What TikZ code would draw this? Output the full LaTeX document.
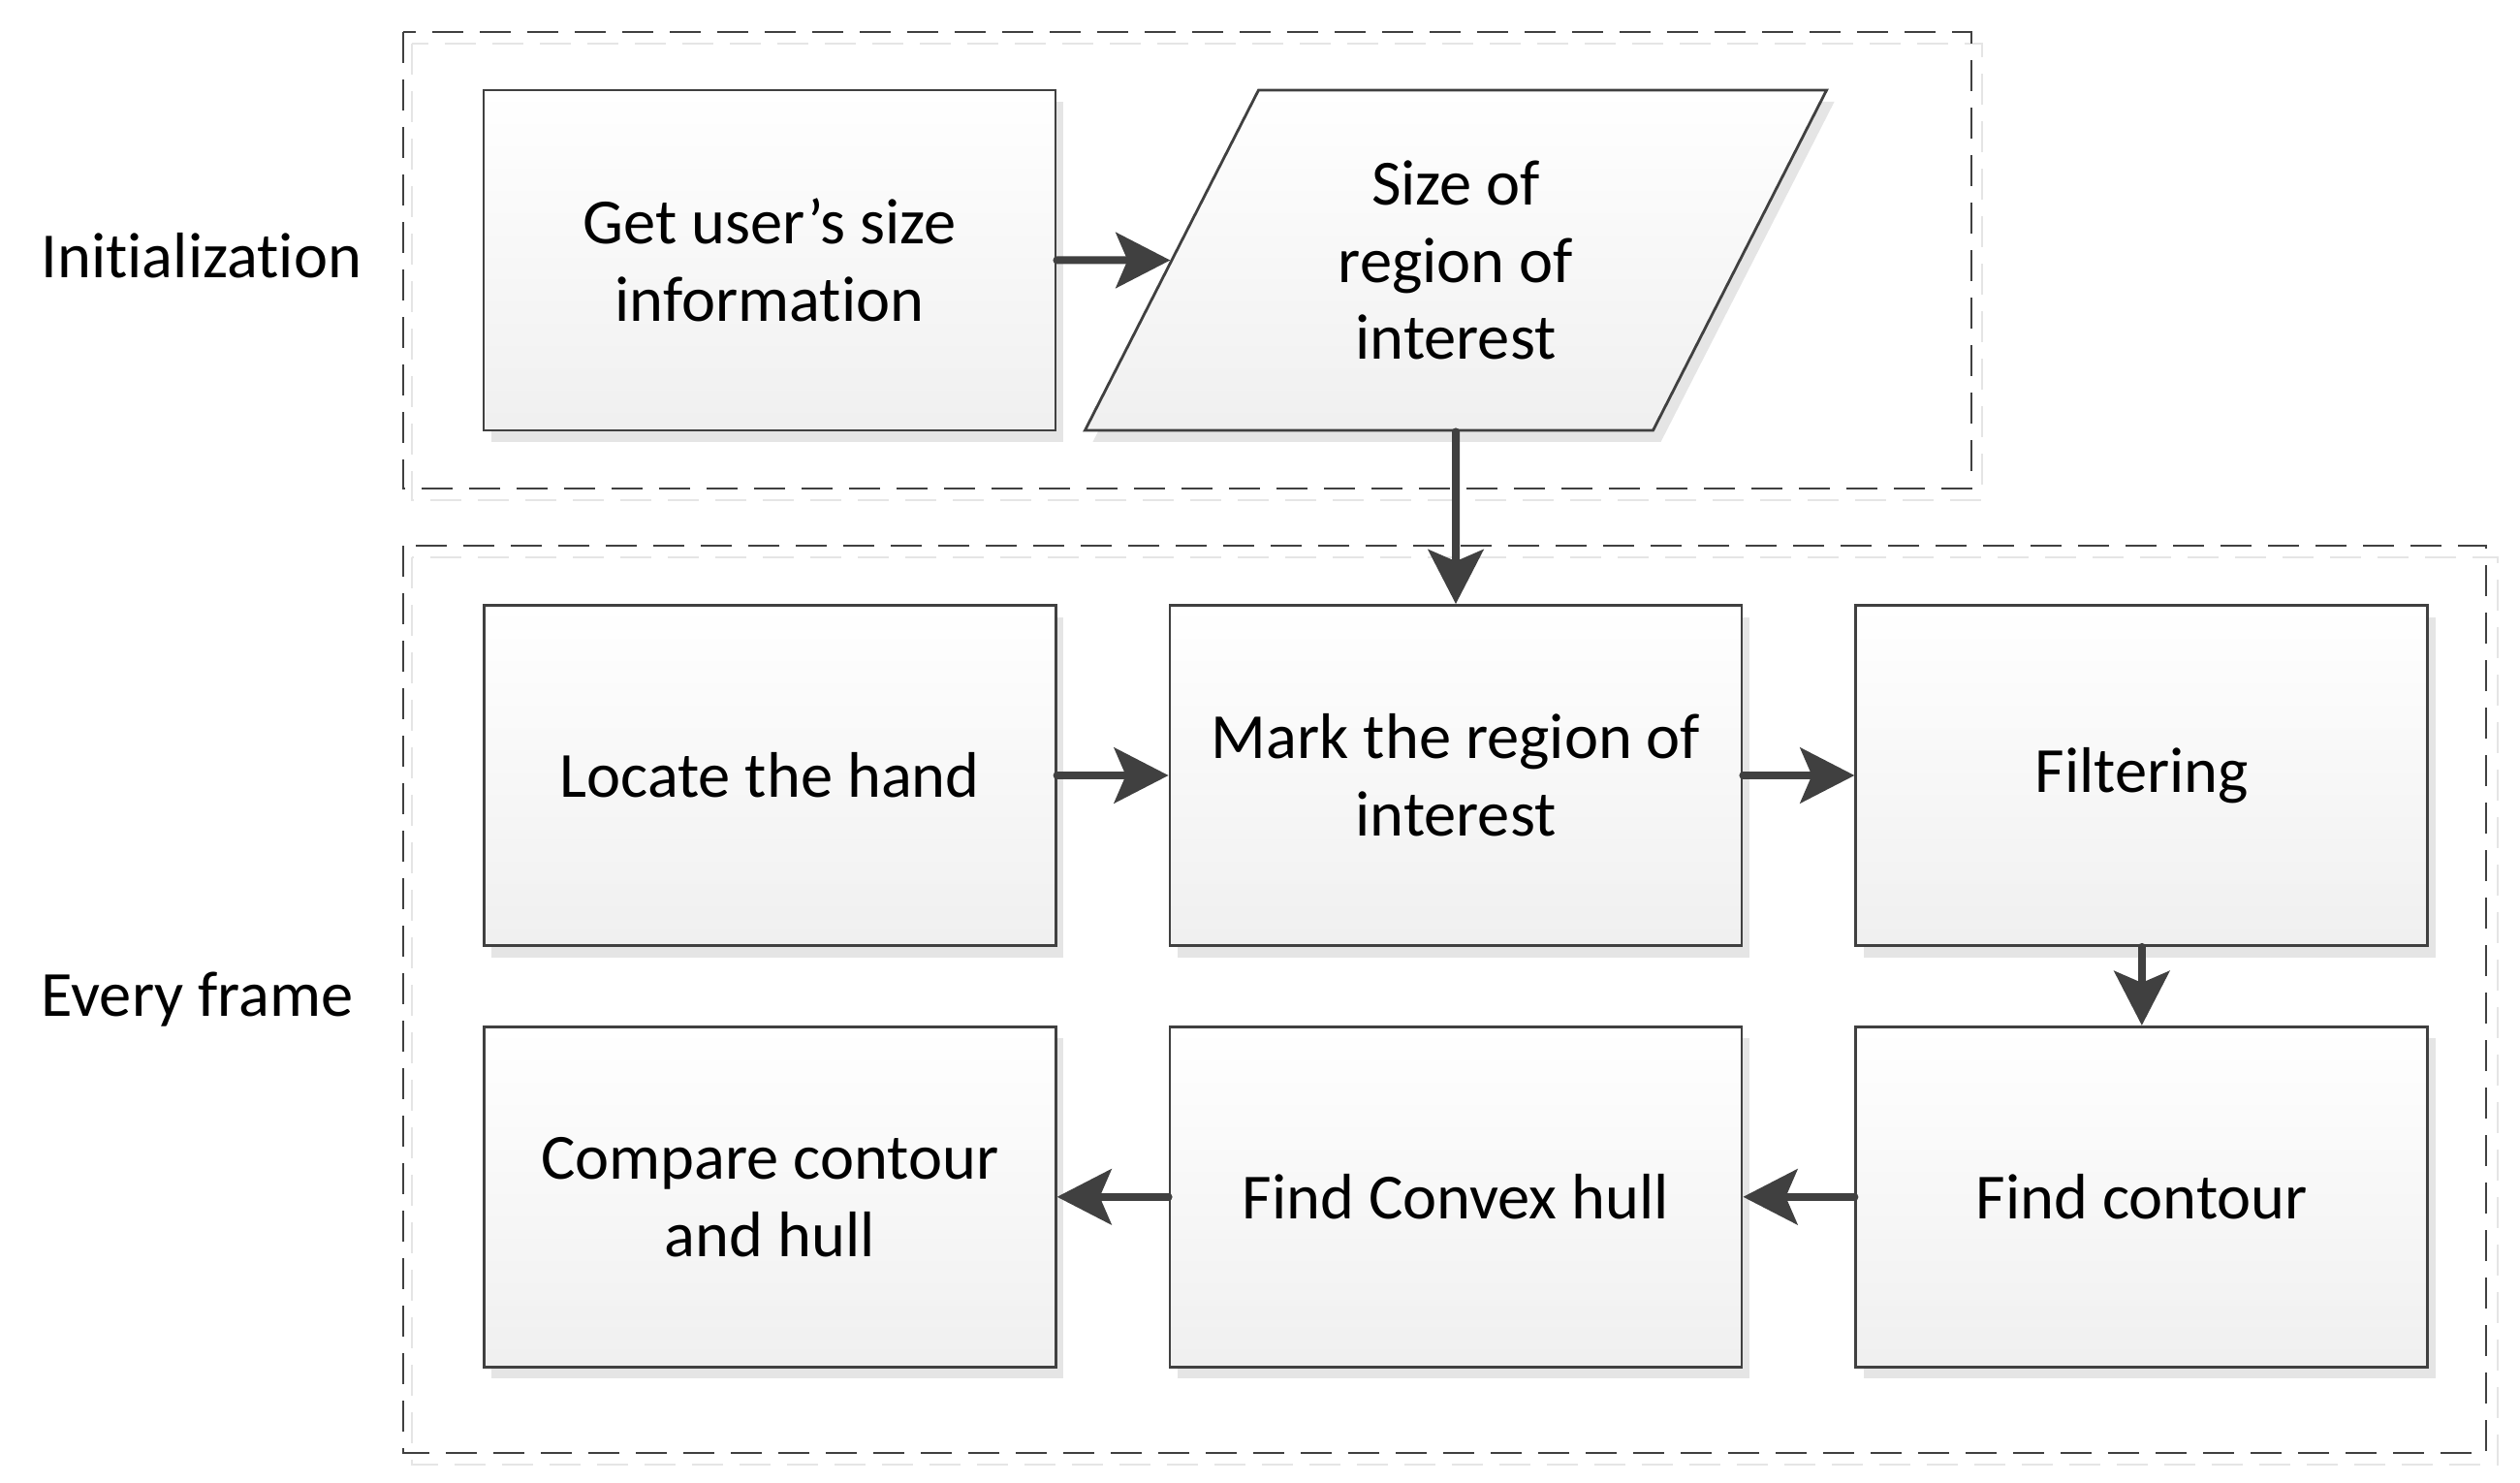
\documentclass[tikz,border=0pt]{standalone}
\usepackage{fontspec}
\setmainfont{Carlito}[Ligatures=NoCommon]
\usepackage{tikz}
\usetikzlibrary{shapes.geometric, arrows.meta, positioning, shadows}

\begin{document}
\begin{tikzpicture}[
        box/.style={draw=black!75, line width=0.8pt, rectangle, minimum width=5.9cm, minimum height=3.51cm, align=center, top color=white, bottom color=black!6, drop shadow={shadow xshift=0.08cm, shadow yshift=-0.12cm, fill=black!10, opacity=1}, font=\fontsize{18.9}{22.7}\selectfont},
        iobox/.style={box, trapezium, trapezium left angle=63, trapezium right angle=117, trapezium stretches=true, minimum width=7.66cm},
        arr/.style={draw=black!75, line width=0.08cm, line cap=round, -{Stealth[length=0.56cm, width=0.57cm, inset=0.12cm]}},
        zone/.style={draw=black!75, line width=0.8pt, dash pattern=on 0.32cm off 0.17cm},
        zoneshade/.style={draw=black!10, line width=0.8pt, dash pattern=on 0.32cm off 0.17cm},
        lbl/.style={anchor=base west, inner sep=0pt, font=\fontsize{18.9}{22.7}\selectfont},
        node distance=0pt
    ]
        \useasboundingbox (0,0) rectangle (26,-15.3);
        \draw[zoneshade] (4.25,-0.45) rectangle (20.45,-5.16);
        \draw[zone] (4.16,-0.33) rectangle (20.34,-5.04);
        \draw[zoneshade] (4.25,-5.75) rectangle (25.77,-15.11);
        \draw[zone] (4.16,-5.63) rectangle (25.65,-14.99);

        \node[lbl] (initlbl) at (0.42,-2.87) {Initialization};
        \node[lbl] (framelbl) at (0.42,-10.48) {Every frame};

        \node[box] (getsize) at (7.94,-2.685) {Get user’s size\\information};
        \node[iobox] (roisize) at (15.02,-2.685) {Size of\\region of\\interest};

        \node[box] (mark) at (15.02,-8.00) {Mark the region of\\interest};
        \node[box, left=1.15cm of mark] (locate) {Locate the hand};
        \node[box, right=1.15cm of mark] (filter) {Filtering};
        \node[box, below=0.81cm of filter] (contour) {Find contour};
        \node[box, below=0.81cm of mark] (hull) {Find Convex hull};
        \node[box, below=0.81cm of locate] (compare) {Compare contour\\and hull};

        \draw[arr] (getsize) -- (roisize);
        \draw[arr] (roisize) -- (mark);
        \draw[arr] (locate) -- (mark);
        \draw[arr] (mark) -- (filter);
        \draw[arr] (filter) -- (contour);
        \draw[arr] (contour) -- (hull);
        \draw[arr] (hull) -- (compare);
    \end{tikzpicture}
\end{document}
